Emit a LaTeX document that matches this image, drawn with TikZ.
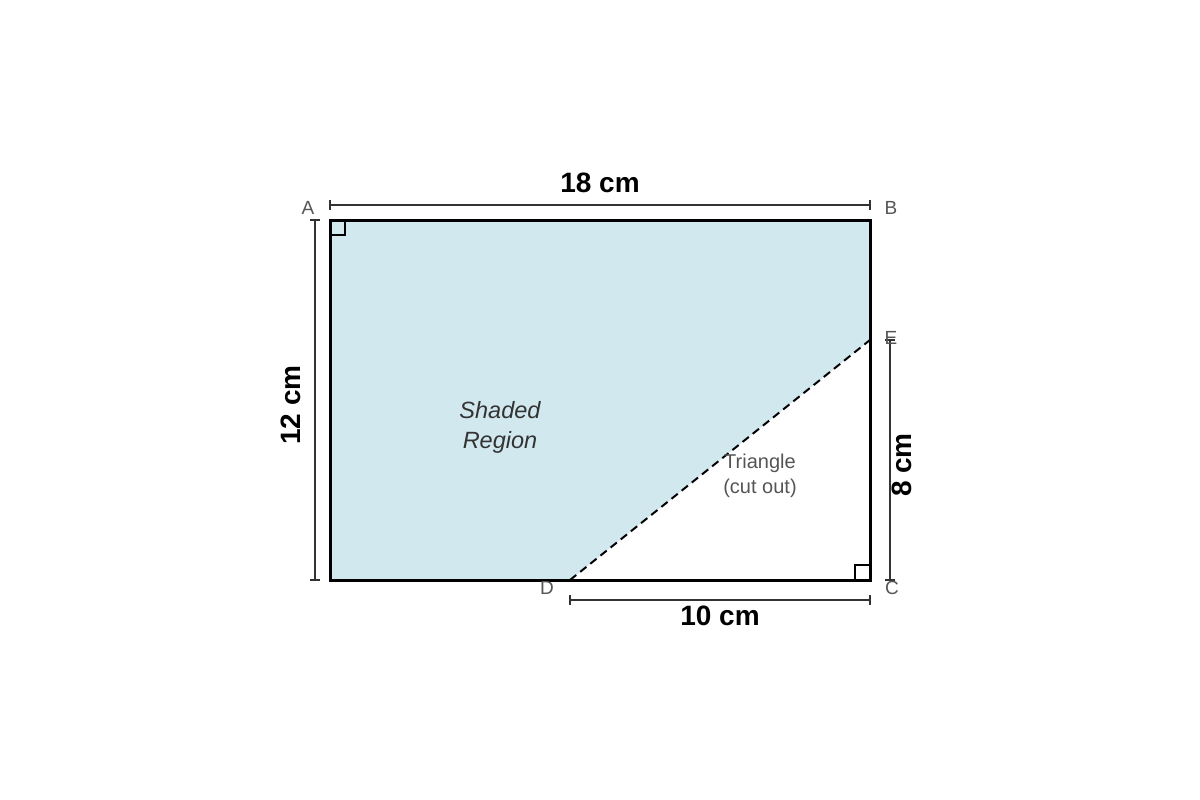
\documentclass[tikz,border=0pt]{standalone}
\usepackage{fontspec}
\setmainfont{Liberation Sans}
\definecolor{shadecol}{RGB}{209,232,239}
\definecolor{dimc}{RGB}{51,51,51}
\definecolor{lblc}{RGB}{85,85,85}
\begin{document}
\begin{tikzpicture}[x=1pt,y=-1pt,
  dimline/.style={draw=dimc,line width=1.5pt},
  vlabel/.style={text=lblc,font=\fontsize{19}{21}\selectfont,inner sep=0pt},
  dimlabel/.style={text=black,font=\fontsize{28}{30}\selectfont\bfseries,inner sep=0pt},
  edge/.style={draw=black,line width=3pt}]
\useasboundingbox (0,0) rectangle (1200,800);
% points
\coordinate (A) at (330,220);
\coordinate (B) at (870,220);
\coordinate (C) at (870,580);
\coordinate (Dp) at (570,580);
\coordinate (Ep) at (870,340);
\coordinate (LL) at (330,580);
% shaded region
\fill[fill=shadecol] (A) -- (B) -- (Ep) -- (Dp) -- (LL) -- cycle;
\draw[black,line width=2pt,dash pattern=on 8pt off 5pt] (Dp) -- (Ep);
\draw[edge,line join=miter] (A) rectangle (C);
% right angle marks
\draw[black,line width=1.5pt] (330,235) -- (345,235) -- (345,220);
\draw[black,line width=1.5pt] (855,580) -- (855,565) -- (870,565);
% dimension lines
\coordinate (t1) at (330,205); \coordinate (t2) at (870,205);
\draw[dimline] (t1) -- (t2);
\draw[dimline] (330,200) -- (330,210);
\draw[dimline] (870,200) -- (870,210);
\node[dimlabel] (l18) at (600,183) {18 cm};
\coordinate (lf1) at (315,220); \coordinate (lf2) at (315,580);
\draw[dimline] (lf1) -- (lf2);
\draw[dimline] (310,220) -- (320,220);
\draw[dimline] (310,580) -- (320,580);
\node[dimlabel,rotate=90] (l12) at (291,405) {12 cm};
\coordinate (r1) at (890,340); \coordinate (r2) at (890,580);
\draw[dimline] (r1) -- (r2);
\draw[dimline] (885,340) -- (895,340);
\draw[dimline] (885,580) -- (895,580);
\node[dimlabel,rotate=90] (l8) at (902,465) {8 cm};
\coordinate (b1) at (570,600); \coordinate (b2) at (870,600);
\draw[dimline] (b1) -- (b2);
\draw[dimline] (570,595) -- (570,605);
\draw[dimline] (870,595) -- (870,605);
\node[dimlabel] (l10) at (720,616) {10 cm};
% vertex labels
\node[vlabel] (nA) at (308,208) {A};
\node[vlabel] (nB) at (891,208) {B};
\node[vlabel] (nE) at (891,338) {E};
\node[vlabel] (nC) at (892,588) {C};
\node[vlabel] (nD) at (547,588) {D};
% region labels
\node[text=dimc,font=\fontsize{23.5}{30}\selectfont\itshape,align=center,inner sep=0pt] (shl) at (500,427) {Shaded\\Region};
\node[text=lblc,font=\fontsize{20}{25}\selectfont,align=center,inner sep=0pt] (tri) at (760,476) {Triangle\\(cut out)};
\end{tikzpicture}
\end{document}
